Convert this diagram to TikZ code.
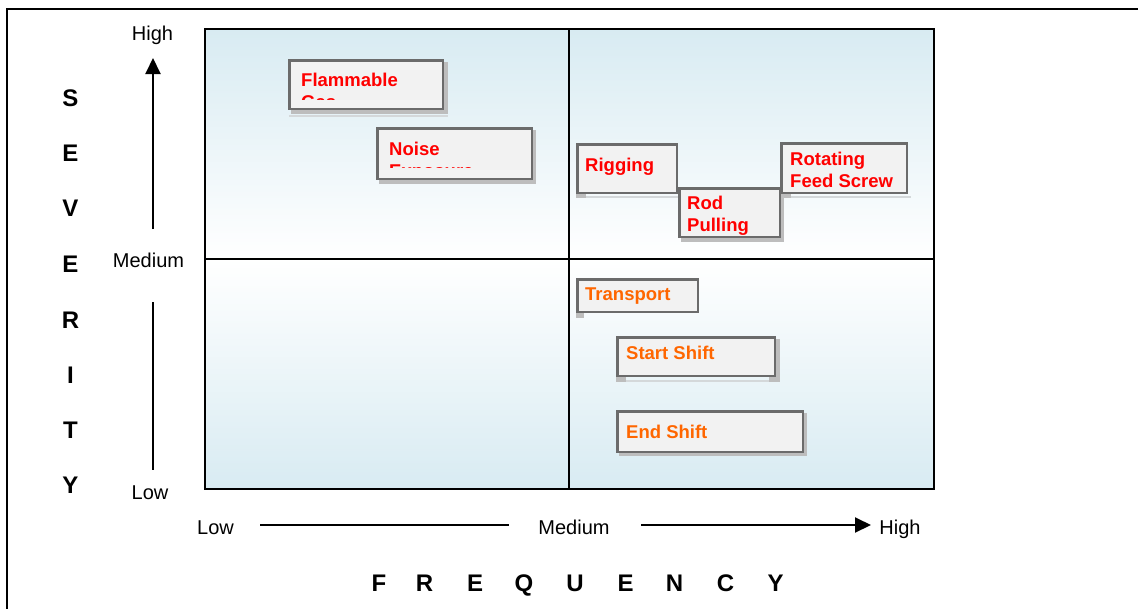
\documentclass[tikz,border=0pt]{standalone}
\usepackage{fontspec}
\setmainfont{Liberation Sans}
\usetikzlibrary{arrows.meta}
\definecolor{qblue}{HTML}{D8EBF2}
\definecolor{boxfill}{HTML}{F2F2F2}
\definecolor{boxline}{HTML}{6B6B6B}
\definecolor{shadowgray}{HTML}{BDBDBD}
\definecolor{lightshadow}{HTML}{D4D8DA}
\definecolor{hired}{HTML}{FF0000}
\definecolor{medorange}{HTML}{FF6600}
\begin{document}
\begin{tikzpicture}[x=1pt,y=-1pt,
  riskbox/.style={draw=boxline, line width=2.5pt, fill=boxfill, rectangle, inner sep=0pt, anchor=north west},
  shadowfill/.style={fill=shadowgray},
  shadowline/.style={draw=lightshadow, line width=2pt},
  lbl/.style={font=\fontsize{18.5}{22}\selectfont\bfseries, anchor=north west, inner sep=0pt, align=left},
  hilbl/.style={lbl, text=hired},
  medlbl/.style={lbl, text=medorange},
  axislbl/.style={font=\fontsize{20}{24}\selectfont, inner sep=0pt, anchor=base},
  bigletter/.style={font=\fontsize{24}{28}\selectfont\bfseries, inner sep=0pt, anchor=base},
  axisline/.style={line width=2pt},
  axisarrow/.style={line width=2pt, -{Triangle[length=16pt,width=15pt]}}]

\useasboundingbox (0,0) rectangle (1138,608);
\fill[white] (0,0) rectangle (1138,608);

% outer frame
\draw[line width=2.5pt] (7,610) -- (7,9) -- (1140,9);

% chart background
\shade[top color=qblue, bottom color=white] (205,29) rectangle (934,259);
\shade[top color=white, bottom color=qblue] (205,259) rectangle (934,489);
\draw[line width=1.5pt] (569,29) -- (569,489);
\draw[line width=1.5pt] (205,259) -- (934,259);
\draw[line width=2pt] (205,29) rectangle (934,489);

% shadows
\fill[shadowfill] (291,62) rectangle (448,114);
\draw[shadowline] (289,116) -- (448,116);
\fill[shadowfill] (379,130) rectangle (536,184);
\fill[shadowfill] (576,193) rectangle (586,198);
\draw[shadowline] (586,196.5) -- (681,196.5);
\fill[shadowfill] (681,190) rectangle (784,242);
\fill[shadowfill] (781,193) rectangle (791,198);
\draw[shadowline] (791,196.5) -- (911,196.5);
\fill[shadowfill] (576,312) rectangle (584,318);
\fill[shadowfill] (776,339) rectangle (780,382);
\fill[shadowfill] (769,376) rectangle (780,382);
\fill[shadowfill] (616,376) rectangle (626,382);
\draw[shadowline] (626,381) -- (769,381);
\fill[shadowfill] (619,413) rectangle (807,456);

% boxes
\node[riskbox, minimum width=153.5pt, minimum height=48.5pt] (flam) at (288.25,59.25) {};
\node[riskbox, minimum width=154.5pt, minimum height=50.5pt] (noise) at (376.25,127.25) {};
\node[riskbox, minimum width=99.5pt, minimum height=48.5pt] (rig) at (576.25,143.25) {};
\node[riskbox, minimum width=125.5pt, minimum height=49.5pt] (rot) at (780.25,142.25) {};
\node[riskbox, minimum width=100.5pt, minimum height=48.5pt] (rod) at (678.25,187.25) {};
\node[riskbox, minimum width=120.5pt, minimum height=32.5pt] (trans) at (576.25,278.25) {};
\node[riskbox, minimum width=157.5pt, minimum height=38.5pt] (start) at (616.25,336.25) {};
\node[riskbox, minimum width=185.5pt, minimum height=40.5pt] (endsh) at (616.25,410.25) {};

% labels (clipped where the reference cuts them)
\begin{scope}
  \clip (287,58) rectangle (443,99);
  \node[hilbl] (flamtxt) at (301,73) {Flammable\\Gas};
\end{scope}
\begin{scope}
  \clip (375,126) rectangle (531,167);
  \node[hilbl] (noisetxt) at (389,142) {Noise\\Exposure};
\end{scope}
\node[hilbl] (rigtxt) at (585,157.5) {Rigging};
\node[hilbl] (rodtxt) at (687,196) {Rod\\Pulling};
\node[hilbl] (rottxt) at (790,151.5) {Rotating\\Feed Screw};
\node[medlbl] (transtxt) at (585,288) {Transport};
\node[medlbl] (starttxt) at (626,346) {Start Shift};
\node[medlbl] (endtxt) at (626,425) {End Shift};

% severity axis
\node[axislbl] (sevhigh) at (152.5,40) {High};
\node[axislbl] (sevmed) at (148.5,267) {Medium};
\node[axislbl] (sevlow) at (150,499) {Low};
\coordinate (vtop) at (153,58);
\coordinate (vup) at (153,229);
\coordinate (vdown) at (153,302);
\coordinate (vbot) at (153,470);
\draw[axisarrow] (vup) -- (vtop);
\draw[axisline] (vdown) -- (vbot);

% frequency axis
\node[axislbl] (freqlow) at (215.5,534) {Low};
\node[axislbl] (freqmed) at (574,534) {Medium};
\node[axislbl] (freqhigh) at (900,534) {High};
\coordinate (h1) at (260,525);
\coordinate (h2) at (509,525);
\coordinate (h3) at (641,525);
\coordinate (h4) at (871,525);
\draw[axisline] (h1) -- (h2);
\draw[axisarrow] (h3) -- (h4);

% SEVERITY
\node[bigletter] (s1) at (70.5,106.5) {S};
\node[bigletter] (s2) at (70.5,161.5) {E};
\node[bigletter] (s3) at (70.5,216.5) {V};
\node[bigletter] (s4) at (70.5,272.5) {E};
\node[bigletter] (s5) at (70.5,328.5) {R};
\node[bigletter] (s6) at (70.5,383.5) {I};
\node[bigletter] (s7) at (70.5,438.5) {T};
\node[bigletter] (s8) at (70.5,493.5) {Y};

% FREQUENCY
\node[bigletter] (f1) at (379,591) {F};
\node[bigletter] (f2) at (424.5,591) {R};
\node[bigletter] (f3) at (475,591) {E};
\node[bigletter] (f4) at (524,591) {Q};
\node[bigletter] (f5) at (575,591) {U};
\node[bigletter] (f6) at (625.5,591) {E};
\node[bigletter] (f7) at (674.5,591) {N};
\node[bigletter] (f8) at (725.5,591) {C};
\node[bigletter] (f9) at (775.5,591) {Y};
\end{tikzpicture}
\end{document}
